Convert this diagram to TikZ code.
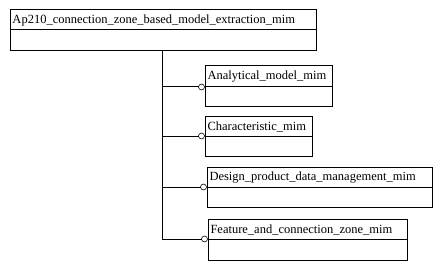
\documentclass[tikz,border=0pt]{standalone}
\usepackage{fontspec}
\setmainfont{Liberation Serif}
\begin{document}
\begin{tikzpicture}[x=1pt,y=-1pt,
  every node/.style={inner sep=0pt, outer sep=0pt},
  head/.style={draw, line width=1pt, anchor=north west, minimum height=#1},
  body/.style={draw, line width=1pt, anchor=north west, minimum height=#1},
  lbl/.style={anchor=west, font=\fontsize{12.5}{14}\selectfont},
  link/.style={line width=1pt},
  knob/.style={draw, circle, fill=white, line width=0.6pt, minimum size=6pt}
]
\useasboundingbox (0,0) rectangle (442,270);

% #1 name, #2 x, #3 y, #4 width, #5 header height, #6 body height, #7 label
\newcommand\mimbox[7]{%
  \node[head=#5, minimum width=#4] (#1) at (#2,#3) {};
  \node[body=#6, minimum width=#4] (#1-b) at (#1.south west) {};
  \node[lbl] (#1-t) at ([xshift=2.5pt,yshift=-0.5pt]#1.west) {#7};
}

\mimbox{top}{10}{10}{306}{20}{21}{Ap210\_connection\_zone\_based\_model\_extraction\_mim}
\mimbox{am}{205}{66}{127}{21}{19}{Analytical\_model\_mim}
\mimbox{ch}{205}{116}{107}{20}{20}{Characteristic\_mim}
\mimbox{dp}{207}{167}{225}{20}{20}{Design\_product\_data\_management\_mim}
\mimbox{fc}{208}{219}{199}{20}{21}{Feature\_and\_connection\_zone\_mim}

% trunk leaving the top schema
\coordinate (trunk) at (162,51);
\foreach \b/\i in {am/1,ch/2,dp/3,fc/4}{
  \node[knob] (k\i) at ([xshift=-3.5pt]\b.south west) {};
  \coordinate (j\i) at (trunk |- \b.south west);
  \draw[link] (j\i) -- (k\i.west);
}
\draw[link] (trunk) -- (j4);
\end{tikzpicture}
\end{document}
